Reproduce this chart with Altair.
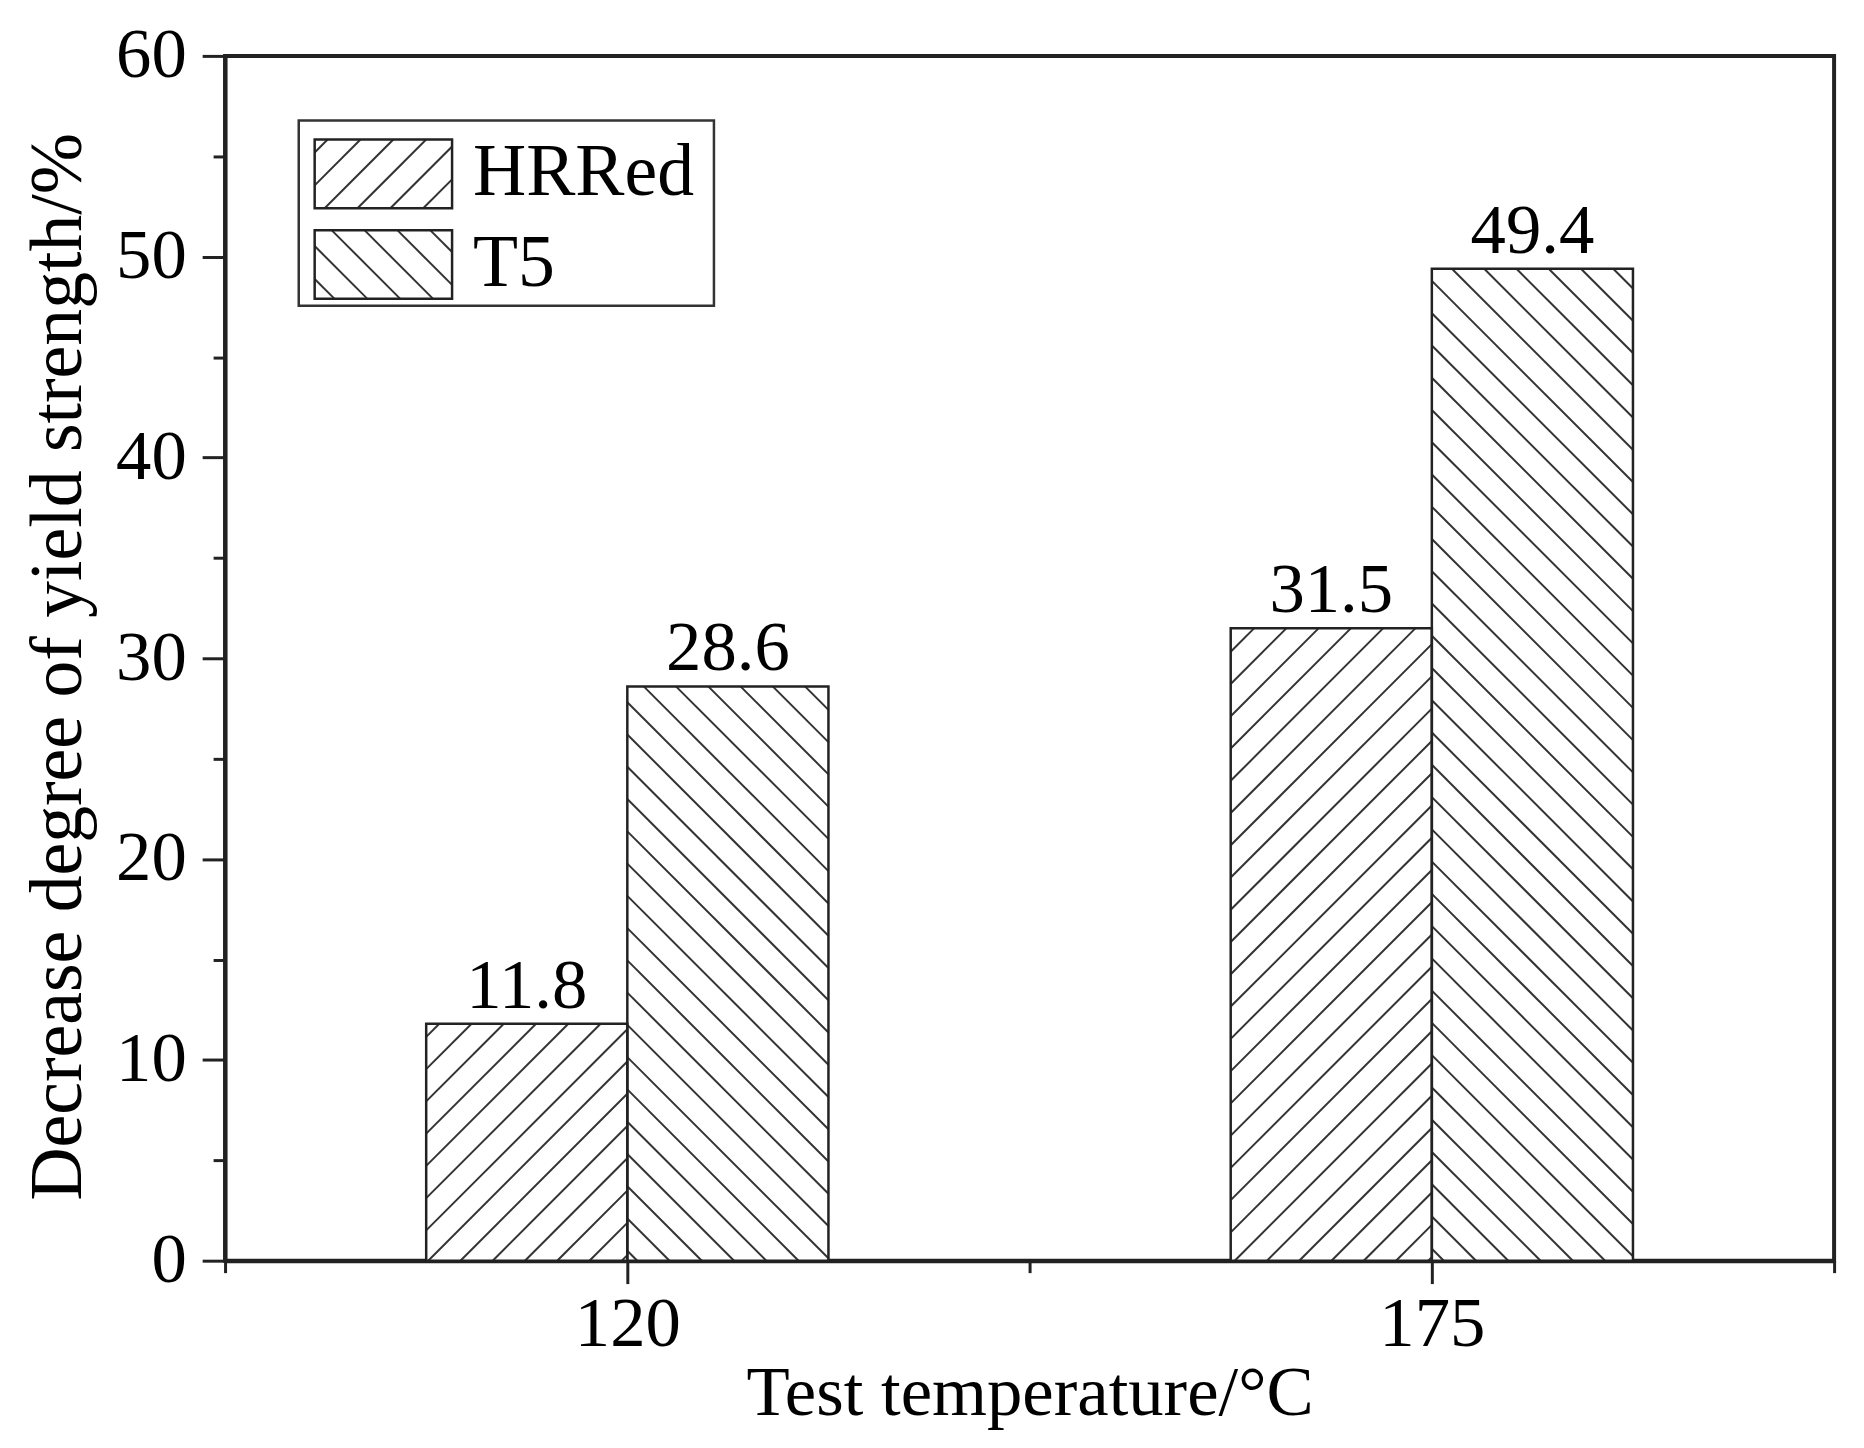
import math
import altair as alt
import pandas as pd

# ---------------- data ----------------
temperatures = ["120", "175"]
series = ["HRRed", "T5"]
hrred = [11.8, 31.5]
t5 = [28.6, 49.4]
series_values = [hrred, t5]
hatch_dirs = ["/", "\\"]

# ---------------- layout constants ----------------
W, H = 1616, 1210
YMAX = 60
XMIN, XMAX = 0.5, len(temperatures) + 0.5
BAR_W = 0.25
SPACING = 32.4
FONT = "Liberation Serif"
INK = "#222222"
PXX = W / (XMAX - XMIN)
PXY = H / YMAX


def hatch(u0, u1, h, direction, s, phase):
    """Hatch segments inside [u0,u1] x [0,h] (v upward), 45 degrees."""
    segs = []
    if direction == "/":
        k0 = math.floor((u0 - h - phase) / s)
        k1 = math.ceil((u1 - phase) / s)
        for k in range(k0, k1 + 1):
            c = phase + k * s
            lo = max(0.0, u0 - c)
            hi = min(h, u1 - c)
            if hi - lo > 1:
                segs.append((c + lo, lo, c + hi, hi))
    else:
        k0 = math.floor((u0 - phase) / s)
        k1 = math.ceil((u1 + h - phase) / s)
        for k in range(k0, k1 + 1):
            c = phase + k * s
            lo = max(0.0, c - u1)
            hi = min(h, c - u0)
            if hi - lo > 1:
                segs.append((c - lo, lo, c - hi, hi))
    return segs


rows = []
hrows = []
for i, t in enumerate(temperatures):
    pos = i + 1
    for j, name in enumerate(series):
        v = series_values[j][i]
        x0 = pos - BAR_W + BAR_W * j
        x1 = x0 + BAR_W
        rows.append(dict(temp=t, series=name, value=v, x0=x0, x1=x1,
                         xc=(x0 + x1) / 2, base=0.0, label=f"{v:.1f}"))
        u0 = (x0 - XMIN) * PXX
        u1 = (x1 - XMIN) * PXX
        phase = 9.6 if hatch_dirs[j] == "/" else 25.2
        for (a, b, c, d) in hatch(u0, u1, v * PXY, hatch_dirs[j], SPACING, phase):
            hrows.append(dict(hx=XMIN + a / PXX, hy=b / PXY,
                              hx2=XMIN + c / PXX, hy2=d / PXY))
bars = pd.DataFrame(rows)
hatches = pd.DataFrame(hrows)

# legend (pixel positions inside plot area)
LEG_BOX = (74, 65, 491, 251)
SW_X0, SW_X1 = 90, 228
SW_Y0, SW_H, SW_STEP = 84, 69, 91
leg_rows = []
leg_hatch = []
for j, name in enumerate(series):
    y0 = SW_Y0 + SW_STEP * j
    y1 = y0 + SW_H
    leg_rows.append(dict(name=name, sx0=SW_X0, sx1=SW_X1, sy0=y0, sy1=y1,
                         tx=SW_X1 + 21, ty=y0 + 56))
    phase = 10.0 if hatch_dirs[j] == "/" else 20.0
    for (a, b, c, d) in hatch(0, SW_X1 - SW_X0, SW_H, hatch_dirs[j], 33.0, phase):
        leg_hatch.append(dict(lx=SW_X0 + a, ly=y1 - b, lx2=SW_X0 + c, ly2=y1 - d))
legend_df = pd.DataFrame(leg_rows)
legend_hatch = pd.DataFrame(leg_hatch)
legend_box = pd.DataFrame([dict(bx0=LEG_BOX[0], by0=LEG_BOX[1],
                                bx1=LEG_BOX[2], by1=LEG_BOX[3])])

# ---------------- scales & axes ----------------
xscale = alt.Scale(domain=[XMIN, XMAX], nice=False, zero=False)
yscale = alt.Scale(domain=[0, YMAX], nice=False)

label_expr = "".join(f"datum.value == {i + 1} ? '{t}' : " for i, t in enumerate(temperatures)) + "''"
x_ticks = [XMIN + 0.5 * k for k in range(int((XMAX - XMIN) * 2) + 1)]

x_axis = alt.Axis(
    values=x_ticks, labelExpr=label_expr, title="Test temperature/°C", grid=False,
    tickSize={"condition": {"test": "datum.value % 1 === 0", "value": 23}, "value": 12},
    tickWidth=3, tickColor=INK, domainColor=INK, domainWidth=4,
    labelFont=FONT, labelFontSize=71, labelColor="black", labelBaseline="alphabetic",
    labelPadding=62, labelFlush=False, labelOverlap=False,
    titleFont=FONT, titleFontSize=71, titleFontWeight="normal", titleColor="black",
    titleBaseline="alphabetic", titleY=154,
)
y_axis = alt.Axis(
    values=list(range(0, YMAX + 1, 5)),
    labelExpr="datum.value % 10 === 0 ? datum.label : ''",
    title="Decrease degree of yield strength/%", grid=False,
    tickSize={"condition": {"test": "datum.value % 10 === 0", "value": 23}, "value": 12},
    tickWidth=3, tickColor=INK, domainColor=INK, domainWidth=4,
    labelFont=FONT, labelFontSize=71, labelColor="black", labelPadding=16,
    labelFlush=False, labelOverlap=False,
    titleFont=FONT, titleFontSize=74, titleFontWeight="normal", titleColor="black",
    titleBaseline="alphabetic", titleAngle=270, titleX=-145, titleY=613, titleAlign="center",
)


def X(f):
    return alt.X(f"{f}:Q", scale=xscale, axis=x_axis)


def Y(f):
    return alt.Y(f"{f}:Q", scale=yscale, axis=y_axis)


base_bars = alt.Chart(bars).mark_rect(fill="white", stroke=None).encode(
    x=X("x0"), x2="x1", y=Y("value"), y2="base")

hatch_layer = alt.Chart(hatches).mark_rule(color="#333333", strokeWidth=2).encode(
    x=X("hx"), x2="hx2", y=Y("hy"), y2="hy2")

outline = alt.Chart(bars).mark_rect(fill=None, fillOpacity=0, stroke=INK, strokeWidth=2.5).encode(
    x=X("x0"), x2="x1", y=Y("value"), y2="base")

labels = alt.Chart(bars).mark_text(font=FONT, fontSize=71, baseline="alphabetic",
                                   dy=-16, color="black").encode(
    x=X("xc"), y=Y("value"), text="label:N")

PX = dict(scale=None, axis=None)
leg_box = alt.Chart(legend_box).mark_rect(fill="white", stroke="#333333", strokeWidth=2.5).encode(
    x=alt.X("bx0:Q", **PX), x2="bx1", y=alt.Y("by0:Q", **PX), y2="by1")
leg_hatch_layer = alt.Chart(legend_hatch).mark_rule(color="#333333", strokeWidth=2).encode(
    x=alt.X("lx:Q", **PX), x2="lx2", y=alt.Y("ly:Q", **PX), y2="ly2")
leg_sw = alt.Chart(legend_df).mark_rect(fill=None, fillOpacity=0, stroke=INK, strokeWidth=2.5).encode(
    x=alt.X("sx0:Q", **PX), x2="sx1", y=alt.Y("sy0:Q", **PX), y2="sy1")
leg_text = alt.Chart(legend_df).mark_text(font=FONT, fontSize=74, align="left",
                                          baseline="alphabetic", color="black").encode(
    x=alt.X("tx:Q", **PX), y=alt.Y("ty:Q", **PX), text="name:N")

chart = alt.layer(
    base_bars, hatch_layer, outline, labels,
    leg_box, leg_hatch_layer, leg_sw, leg_text,
).properties(
    width=W, height=H,
    autosize=alt.AutoSizeParams(type="none"),
    padding={"left": 218, "top": 45, "right": 22, "bottom": 177},
    background="white",
).configure_view(stroke=INK, strokeWidth=4)

chart.save("out.html", embed_options={"renderer": "svg", "actions": False})
